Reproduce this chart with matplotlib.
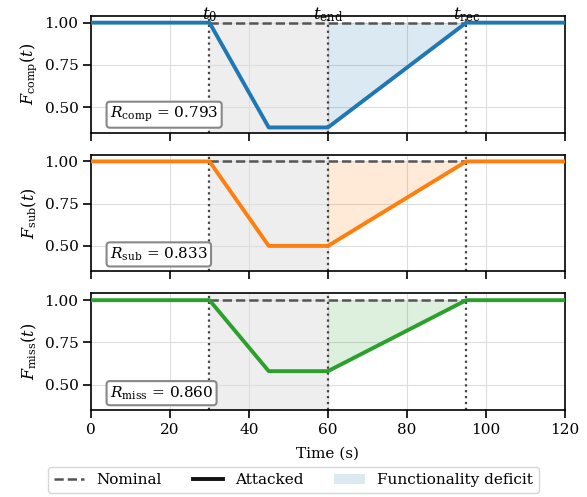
import numpy as np
import matplotlib.pyplot as plt
from matplotlib.lines import Line2D
from matplotlib.patches import Patch

plt.rcParams['font.family'] = 'DejaVu Serif'
plt.rcParams['mathtext.fontset'] = 'dejavuserif'
plt.rcParams['font.size'] = 11
plt.rcParams['xtick.major.size'] = 5.5
plt.rcParams['ytick.major.size'] = 5.5
plt.rcParams['xtick.major.width'] = 1.2
plt.rcParams['ytick.major.width'] = 1.2

# time breakpoints (s)
t = [0, 30, 45, 60, 95, 120]
t0, t_end, t_rec = 30, 60, 95

names = ['comp', 'sub', 'miss']
minimum = [0.38, 0.50, 0.58]
R_vals = [0.793, 0.833, 0.860]
colors = ['#1f77b4', '#ff7f0e', '#2ca02c']

fig, axes = plt.subplots(3, 1, figsize=(5.87, 4.97), dpi=100, sharex=True)
fig.subplots_adjust(left=0.155, right=0.9625, top=0.968, bottom=0.175, hspace=0.19)

for i, ax in enumerate(axes):
    m = minimum[i]
    F = [1.0, 1.0, m, m, 1.0, 1.0]
    ax.axvspan(t0, t_end, color='#eeeeee', zorder=0)
    ax.grid(True, color='#dddddd', linewidth=0.8, zorder=0)
    ax.set_axisbelow(True)
    # deficit during recovery
    tr = [t_end, t_rec]
    ax.fill_between(tr, [m, 1.0], [1.0, 1.0], color=colors[i], alpha=0.16, linewidth=0, zorder=1)
    ax.plot([t0, t_rec], [1.0, 1.0], color='#555555', linestyle='--', linewidth=1.8, zorder=2)
    for tv in (t0, t_end, t_rec):
        ax.axvline(tv, color='#444444', linestyle=':', linewidth=1.6, zorder=2)
    ax.plot(t, F, color=colors[i], linewidth=2.8, zorder=3)
    ax.set_xlim(0, 120)
    ax.set_ylim(0.35, 1.04)
    ax.set_yticks([0.5, 0.75, 1.0])
    ax.set_yticklabels(['0.50', '0.75', '1.00'])
    ax.set_ylabel(r'$F_{\mathrm{%s}}(t)$' % names[i], fontsize=11.5)
    ax.text(0.04, 0.07, r'$R_{\mathrm{%s}}$ = %.3f' % (names[i], R_vals[i]),
            transform=ax.transAxes, ha='left', va='bottom',
            bbox=dict(boxstyle='round,pad=0.22', facecolor='white', edgecolor='#888888', linewidth=1.5))
    for sp in ax.spines.values():
        sp.set_linewidth(1.2)

top = axes[0]
for tv, lab in ((t0, r'$t_0$'), (t_end, r'$t_{\mathrm{end}}$'), (t_rec, r'$t_{\mathrm{rec}}$')):
    top.text(tv, 1.045, lab, ha='center', va='center', fontsize=12)

axes[-1].set_xticks([0, 20, 40, 60, 80, 100, 120])
axes[-1].set_xlabel('Time (s)', labelpad=7)

handles = [Line2D([0], [0], color='#555555', linestyle='--', linewidth=1.8),
           Line2D([0], [0], color='#111111', linewidth=2.8),
           Patch(facecolor='#1f77b4', alpha=0.16)]
fig.legend(handles, ['Nominal', 'Attacked', 'Functionality deficit'],
           loc='lower center', ncol=3, bbox_to_anchor=(0.50, -0.008),
           frameon=True, edgecolor='#cccccc', fancybox=True, columnspacing=2.0)

fig.savefig('out.png', dpi=100)
